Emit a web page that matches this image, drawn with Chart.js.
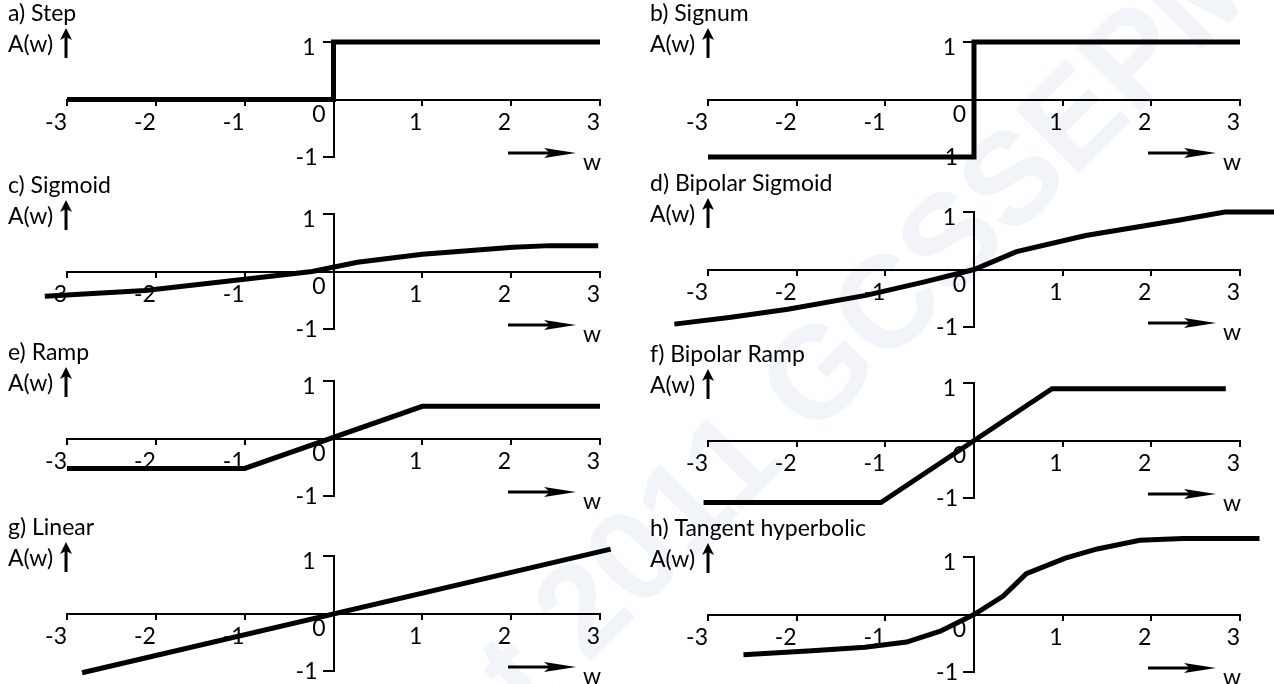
<!DOCTYPE html>
<html>
<head>
<meta charset="utf-8">
<title>Activation functions</title>
<script src="https://cdn.jsdelivr.net/npm/chart.js@4.4.1/dist/chart.umd.min.js"></script>
<style>
  html, body { margin: 0; padding: 0; background: #fff; }
  #page { position: relative; width: 1274px; height: 684px; overflow: hidden; }
  .panel { position: absolute; }
  #mark {
    position: absolute; left: 50px; top: 1046px;
    font: bold 130px 'Liberation Sans', sans-serif; line-height: 130px;
    color: #f1f4f8; white-space: nowrap;
    transform: rotate(-45deg); transform-origin: 0 0;
  }
</style>
</head>
<body>
<div id="page">
  <div id="mark">Copyright 2011 GCSSEPM</div>
</div>
<script>
// Activation functions A(w) - eight small panels

const panelTitles = ['a) Step', 'b) Signum', 'c) Sigmoid', 'd) Bipolar Sigmoid',
                     'e) Ramp', 'f) Bipolar Ramp', 'g) Linear', 'h) Tangent hyperbolic'];
const xTicks = [-3, -2, -1, 0, 1, 2, 3];
const yTicks = [-1, 1];

const stepW = [-3, 0, 0, 3];
const stepA = [0, 0, 1, 1];
const signW = [-3, 0, 0, 3];
const signA = [-1, -1, 1, 1];
const sigmoidW = [-3.25, -2.12, -1.2, -0.24, 0.27, 1.0, 2.02, 2.44, 2.98];
const sigmoidA = [-0.43, -0.33, -0.17, 0, 0.16, 0.30, 0.42, 0.45, 0.45];
const bipSigW = [-3.38, -2.74, -2.10, -1.22, -0.57, 0, 0.48, 1.26, 2.32, 2.83, 3.42];
const bipSigA = [-0.95, -0.83, -0.69, -0.45, -0.22, 0, 0.31, 0.59, 0.86, 1.0, 1.0];
const rampW = [-3, -1, 1, 3];
const rampA = [-0.52, -0.52, 0.56, 0.56];
const bipRampW = [-3.05, -1.05, 0.88, 2.84];
const bipRampA = [-1.08, -1.08, 0.9, 0.9];
const linearW = [-2.83, 3.12];
const linearA = [-1.03, 1.12];
const tanhW = [-2.60, -1.83, -1.23, -0.76, -0.38, 0, 0.33, 0.59, 1.03, 1.39, 1.87, 2.36, 3.22];
const tanhA = [-0.70, -0.63, -0.57, -0.48, -0.29, 0, 0.32, 0.71, 0.98, 1.14, 1.29, 1.32, 1.32];

const seriesW = [stepW, signW, sigmoidW, bipSigW, rampW, bipRampW, linearW, tanhW];
const seriesA = [stepA, signA, sigmoidA, bipSigA, rampA, bipRampA, linearA, tanhA];

// panel placement on the page
const PANEL_W = 637, PANEL_H = 172;
const panelTops = [1, 1, 173, 171, 340, 342, 515, 516];
const FONT_FAMILY = "Lato, 'Open Sans', sans-serif";
const FONT_SIZE = 23;

// titles, A(w) label, axis numbers at 0 and +-1, and the w arrow
const decor = {
    id: 'decor',
    afterDraw(chart, args, opts) {
        const ctx = chart.ctx;
        const xs = chart.scales.x;
        const ys = chart.scales.y;
        const x0 = xs.getPixelForValue(0);
        const y0 = ys.getPixelForValue(0);
        const top = ys.getPixelForValue(1);
        const bottom = ys.getPixelForValue(-1);
        const right = xs.getPixelForValue(3);

        ctx.save();
        ctx.fillStyle = '#000';
        ctx.strokeStyle = '#000';
        ctx.font = FONT_SIZE + 'px ' + FONT_FAMILY;
        ctx.textBaseline = 'middle';
        ctx.textAlign = 'left';
        ctx.fillText(opts.title, opts.textLeft, top - 28);
        ctx.fillText('A(w)', opts.textLeft, top + 3);

        // up arrow next to A(w)
        const ax = opts.textLeft + ctx.measureText('A(w)').width + 13;
        ctx.lineWidth = 3;
        ctx.beginPath();
        ctx.moveTo(ax, top + 16);
        ctx.lineTo(ax, top - 6);
        ctx.stroke();
        ctx.beginPath();
        ctx.moveTo(ax, top - 14);
        ctx.lineTo(ax + 6, top - 2);
        ctx.lineTo(ax, top - 5);
        ctx.lineTo(ax - 6, top - 2);
        ctx.closePath();
        ctx.fill();

        ctx.textAlign = 'right';
        ctx.fillText('0', x0 - 8, y0 + 15);
        ctx.fillText(String(yTicks[1]), x0 - 18, top + 6);
        ctx.fillText(String(yTicks[0]), x0 - 16, bottom + 1);

        // w arrow
        const wy = bottom - 4;
        ctx.beginPath();
        ctx.moveTo(right - 92, wy);
        ctx.lineTo(right - 45, wy);
        ctx.stroke();
        ctx.beginPath();
        ctx.moveTo(right - 24, wy);
        ctx.lineTo(right - 56, wy - 5);
        ctx.lineTo(right - 50, wy);
        ctx.lineTo(right - 56, wy + 5);
        ctx.closePath();
        ctx.fill();

        ctx.textAlign = 'center';
        ctx.fillText('w', right - 8, bottom + 6);
        ctx.restore();
    }
};

function makePanel(i) {
    const left = (i % 2) * PANEL_W;
    const holder = document.createElement('div');
    holder.className = 'panel';
    holder.style.left = left + 'px';
    holder.style.top = panelTops[i] + 'px';
    const canvas = document.createElement('canvas');
    canvas.width = PANEL_W;
    canvas.height = PANEL_H;
    holder.appendChild(canvas);
    document.getElementById('page').appendChild(holder);

    const isRight = i % 2 === 1;
    const points = seriesW[i].map((w, k) => ({ x: w, y: seriesA[i][k] }));
    const tickFont = { family: FONT_FAMILY, size: FONT_SIZE };

    return new Chart(canvas.getContext('2d'), {
        type: 'line',
        data: {
            datasets: [{
                data: points,
                borderColor: '#000',
                borderWidth: 5,
                borderJoinStyle: 'miter',
                pointRadius: 0,
                tension: 0,
                fill: false,
                clip: false
            }]
        },
        options: {
            responsive: false,
            animation: false,
            devicePixelRatio: 1,
            events: [],
            layout: {
                padding: isRight
                    ? { left: 71, right: 34, top: 41, bottom: 16 }
                    : { left: 67, right: 37, top: 41, bottom: 16 }
            },
            plugins: {
                legend: { display: false },
                tooltip: { enabled: false },
                decor: { title: panelTitles[i], textLeft: isRight ? 13 : 8 }
            },
            scales: {
                x: {
                    type: 'linear',
                    min: -3,
                    max: 3,
                    position: { y: 0 },
                    afterBuildTicks: s => { s.ticks = xTicks.map(v => ({ value: v })); },
                    border: { display: true, color: '#000', width: 2 },
                    grid: { drawOnChartArea: false, drawTicks: true, tickLength: 5, color: '#000', lineWidth: 2 },
                    ticks: {
                        color: '#000',
                        font: tickFont,
                        align: 'end',
                        padding: 4,
                        maxRotation: 0,
                        callback: v => (v === 0 ? '' : String(v))
                    }
                },
                y: {
                    type: 'linear',
                    min: -1,
                    max: 1,
                    position: { x: 0 },
                    afterBuildTicks: s => { s.ticks = yTicks.map(v => ({ value: v })); },
                    border: { display: true, color: '#000', width: 2 },
                    grid: { drawOnChartArea: false, drawTicks: true, tickLength: 10, color: '#000', lineWidth: 2 },
                    // numbers at +-1 are placed by the decor plugin, left of the brackets
                    ticks: { callback: () => '' }
                }
            }
        },
        plugins: [decor]
    });
}

for (let i = 0; i < panelTitles.length; i++) {
    makePanel(i);
}
</script>
</body>
</html>
